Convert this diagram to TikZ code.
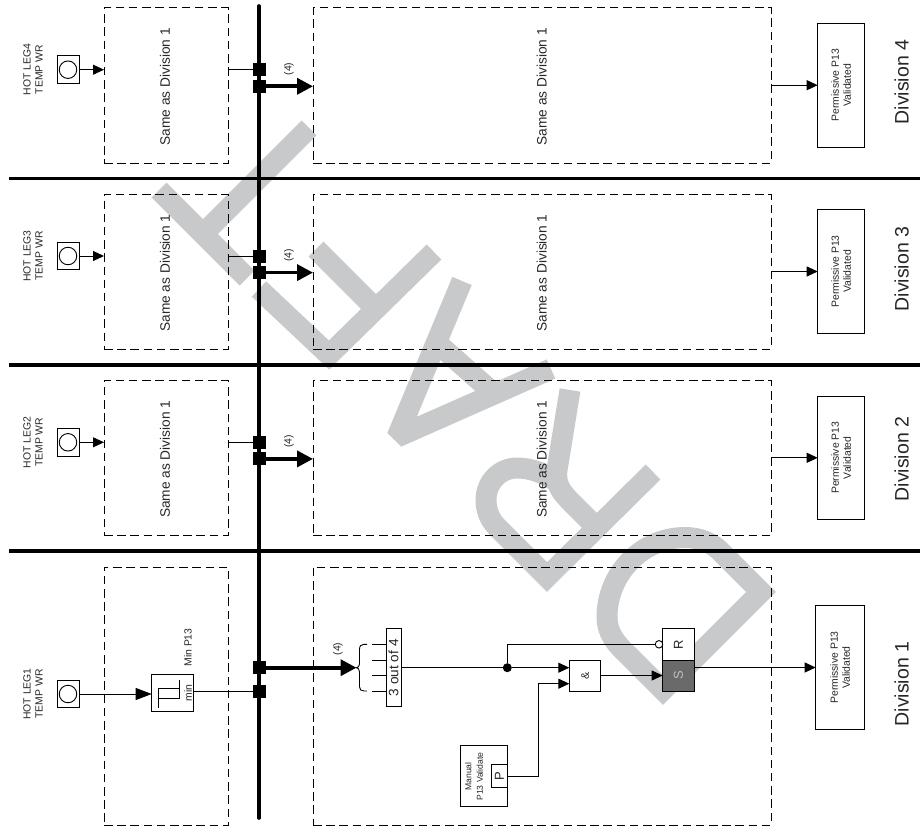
\documentclass[tikz,border=0pt]{standalone}
\usepackage{fontspec}
\setmainfont{Liberation Sans}
\usetikzlibrary{arrows.meta}
\definecolor{wmarkgray}{HTML}{C8C9CB}
\definecolor{setgray}{HTML}{6A6A6A}
\tikzset{
    wmark/.style={draw=wmarkgray, line width=21pt, line join=miter},
    dashbox/.style={draw, line width=1pt, dash pattern=on 8.5pt off 4.7pt, inner sep=0pt, outer sep=0pt},
    logicbox/.style={draw, line width=0.9pt, fill=white, inner sep=0pt, outer sep=0pt, align=center},
    busnode/.style={fill=black, minimum size=13pt, inner sep=0pt, outer sep=0pt},
    sensor/.style={logicbox, minimum width=22pt, minimum height=27.5pt},
    txtsmall/.style={font=\fontsize{10.4}{12}\selectfont, text=black!85, align=center, rotate=90, inner sep=0pt},
    txtsame/.style={font=\fontsize{13.7}{16}\selectfont, text=black!85, rotate=90, inner sep=0pt},
    txtdiv/.style={font=\fontsize{19.5}{23}\selectfont, text=black!85, rotate=90, inner sep=0pt},
    sig/.style={line width=0.9pt, -{Triangle[length=11pt,width=10pt]}},
    sigbig/.style={line width=0.9pt, -{Triangle[length=16pt,width=12pt]}},
    fatsig/.style={line width=3.6pt, -{Triangle[length=16pt,width=16pt]}},
    wire/.style={line width=0.9pt},
    rule/.style={line width=3.6pt}
}

\begin{document}
\begin{tikzpicture}[x=1pt,y=-1pt]
        \useasboundingbox (0,0) rectangle (920,832);

        % watermark letters
        \draw[wmark] (159,190) -- (247,278);
        \draw[wmark] (309,128) -- (205,232);
        \draw[wmark] (259,289) -- (329,355) -- (434,252);
        \draw[wmark] (316,249) -- (376,309);
        \draw[wmark, line join=bevel] (462,281) -- (397,437) -- (551,369);
        \draw[wmark] (437,343) -- (490,390);
        \draw[wmark] (653,472) -- (547,577) -- (497,527) .. controls (489,519) and (486,509) .. (486,500) .. controls (486,482) and (500,468) .. (517,468) .. controls (530,468) and (545,473) .. (557,482);
        \draw[wmark] (570,390) -- (557,470) .. controls (555,485) and (562,493) .. (572,503) -- (597,528);
        \draw[wmark] (663,690) -- (627,654) .. controls (615,643) and (607,632) .. (607,617) .. controls (607,574) and (642,537.5) .. (685,537.5) .. controls (700,537.5) and (712,543) .. (720,551) -- (761,592) -- cycle;

        \coordinate (bustop) at (259,6);
        \coordinate (busend) at (259,818);
        \draw[rule, line cap=round] (bustop) -- (busend);

        \foreach \n/\ya in {4/0,3/186.3,2/372.6} {
            \node[dashbox, minimum width=124pt, minimum height=155pt] (left\n) at (166,85.5+\ya) {};
            \node[dashbox, minimum width=458pt, minimum height=155pt] (right\n) at (542,85.5+\ya) {};
            \node[txtsame] (sameleft\n) at (165,86.7+\ya) {Same as Division 1};
            \node[txtsame] (sameright\n) at (541.7,86.7+\ya) {Same as Division 1};

            \node[sensor] (sens\n) at (68,69.7+\ya) {};
            \node[draw, circle, line width=0.9pt, minimum size=17.5pt, inner sep=0pt] (eye\n) at (68,69.7+\ya) {};
            \node[txtsmall] (tag\n) at (33,69.7+\ya) {HOT LEG\n\\TEMP WR};
            \draw[sig] (sens\n.east) -- (sens\n.east -| left\n.west);

            \node[busnode] (sqa\n) at (259,69.7+\ya) {};
            \node[busnode] (sqb\n) at (259,86.3+\ya) {};
            \draw[wire] (left\n.east |- sqa\n) -- (sqa\n);
            \draw[fatsig] (sqb\n) -- (sqb\n -| right\n.west);
            \node[txtsmall] (cnt\n) at (289,69+\ya) {(4)};

            \node[logicbox, minimum width=47pt, minimum height=123.7pt] (perm\n) at (841.2,85.2+\ya) {};
            \node[txtsmall] (permtxt\n) at (841.2,85.2+\ya) {Permissive P13\\Validated};
            \draw[sig] (right\n.east |- perm\n) -- (perm\n.west);
        }

        \node[txtdiv] (div4) at (901.7,82) {Division 4};
        \node[txtdiv] (div3) at (901.7,269) {Division 3};
        \node[txtdiv] (div2) at (901.7,459) {Division 2};
        \node[txtdiv] (div1) at (901.7,684) {Division 1};

        \foreach \n/\yr in {1/178.5,2/365,3/551} {
            \coordinate (rulea\n) at (9,\yr);
            \coordinate (ruleb\n) at (920,\yr);
            \draw[rule] (rulea\n) -- (ruleb\n);
        }

        \node[dashbox, minimum width=124pt, minimum height=258pt] (left1) at (166,696) {};
        \node[dashbox, minimum width=458pt, minimum height=258pt] (right1) at (542,696) {};

        \node[sensor] (sens1) at (68,694) {};
        \node[draw, circle, line width=0.9pt, minimum size=17.5pt, inner sep=0pt] (eye1) at (68,694) {};
        \node[txtsmall] (tag1) at (33,694) {HOT LEG1\\TEMP WR};

        \node[logicbox, minimum width=42pt, minimum height=37.6pt] (hyst) at (172.7,692.8) {};
        \draw[wire] (158.3,707.7) -- (158.3,688.3) -- (179.3,688.3);
        \draw[wire] (179.3,680) -- (179.3,698.3) -- (158.3,698.3);
        \node[txtsmall] (hystmin) at (188,693) {min};
        \node[txtsmall] (hystname) at (188,647.5) {Min P13};
        \draw[sigbig] (sens1.east) -- (sens1.east -| hyst.west);

        \node[busnode] (sqa1) at (259,667.7) {};
        \node[busnode] (sqb1) at (259,691.8) {};
        \draw[wire] (hyst.east |- sqb1) -- (sqb1);

        \coordinate (bracetip) at (356.5,667.7);
        \draw[fatsig] (sqa1) -- (bracetip);
        \node[txtsmall] (cnt1) at (338,649) {(4)};
        \draw[wire] (367,644.3) -- (364,644.3) .. controls (361,644.3) and (359.5,646) .. (359.5,649.3) -- (359.5,664) .. controls (359.5,666) and (358,667.7) .. (bracetip) .. controls (358,667.7) and (359.5,669.5) .. (359.5,671.7) -- (359.5,686.7) .. controls (359.5,689.5) and (361,691) .. (364,691) -- (367,691);

        \node[logicbox, minimum width=15.3pt, minimum height=78pt] (vote) at (393.6,667.7) {};
        \node[font=\fontsize{13.6}{16}\selectfont, text=black!85, rotate=90, inner sep=0pt] (votetxt) at (393.6,667.7) {3 out of 4};
        \foreach \i/\yi in {1/644.3,2/660,3/675.7,4/691} {
            \coordinate (brc\i) at (372,\yi);
            \draw[wire] (brc\i) -- (brc\i -| vote.west);
        }

        \node[logicbox, minimum width=31.4pt, minimum height=31pt] (andgate) at (585,675.5) {};
        \node[font=\fontsize{11}{13}\selectfont, text=black!85, rotate=90, inner sep=0pt] (andtxt) at (585,675.5) {\&};
        \node[logicbox, minimum width=31.3pt, minimum height=31.3pt] (rbox) at (678.3,644.35) {};
        \node[font=\fontsize{13}{15}\selectfont, text=black!85, rotate=90, inner sep=0pt] (rtxt) at (678.3,644.35) {R};
        \node[logicbox, fill=setgray, minimum width=31.3pt, minimum height=31pt] (sbox) at (678.3,675.5) {};
        \node[font=\fontsize{13}{15}\selectfont, rotate=90, inner sep=0pt, text=black!25] (stxt) at (678.3,675.5) {S};
        \node[draw, circle, fill=white, line width=0.9pt, minimum size=7.5pt, inner sep=0pt] (rinv) at (659,644.3) {};
        \node[circle, fill=black, minimum size=9pt, inner sep=0pt] (dot) at (507.3,667.7) {};

        \draw[wire] (vote.east) -- (dot);
        \draw[sig] (dot) -- (dot -| andgate.west);
        \draw[wire] (dot) |- (rinv);
        \draw[sig] (andgate.east) -- (sbox.west);

        \node[logicbox, minimum width=47pt, minimum height=61pt] (manual) at (483.8,776.2) {};
        \node[font=\fontsize{8.6}{11.5}\selectfont, text=black!85, align=center, rotate=90, inner sep=0pt] (manualtxt) at (474,776.5) {Manual\\P13 Validate};
        \node[logicbox, minimum width=15.6pt, minimum height=23.4pt] (pbox) at (499.5,776) {};
        \node[font=\fontsize{13}{15}\selectfont, text=black!85, rotate=90, inner sep=0pt] (ptxt) at (499.5,776) {P};
        \coordinate (pturn) at (538.3,683.7);
        \draw[sig] (pbox.east) -| (pturn) -- (pturn -| andgate.west);

        \node[logicbox, minimum width=49pt, minimum height=123.7pt] (perm1) at (840.2,667.5) {};
        \node[txtsmall] (permtxt1) at (840.2,667.5) {Permissive P13\\Validated};
        \draw[sig] (sbox.east |- perm1) -- (perm1.west);

    \end{tikzpicture}
\end{document}
